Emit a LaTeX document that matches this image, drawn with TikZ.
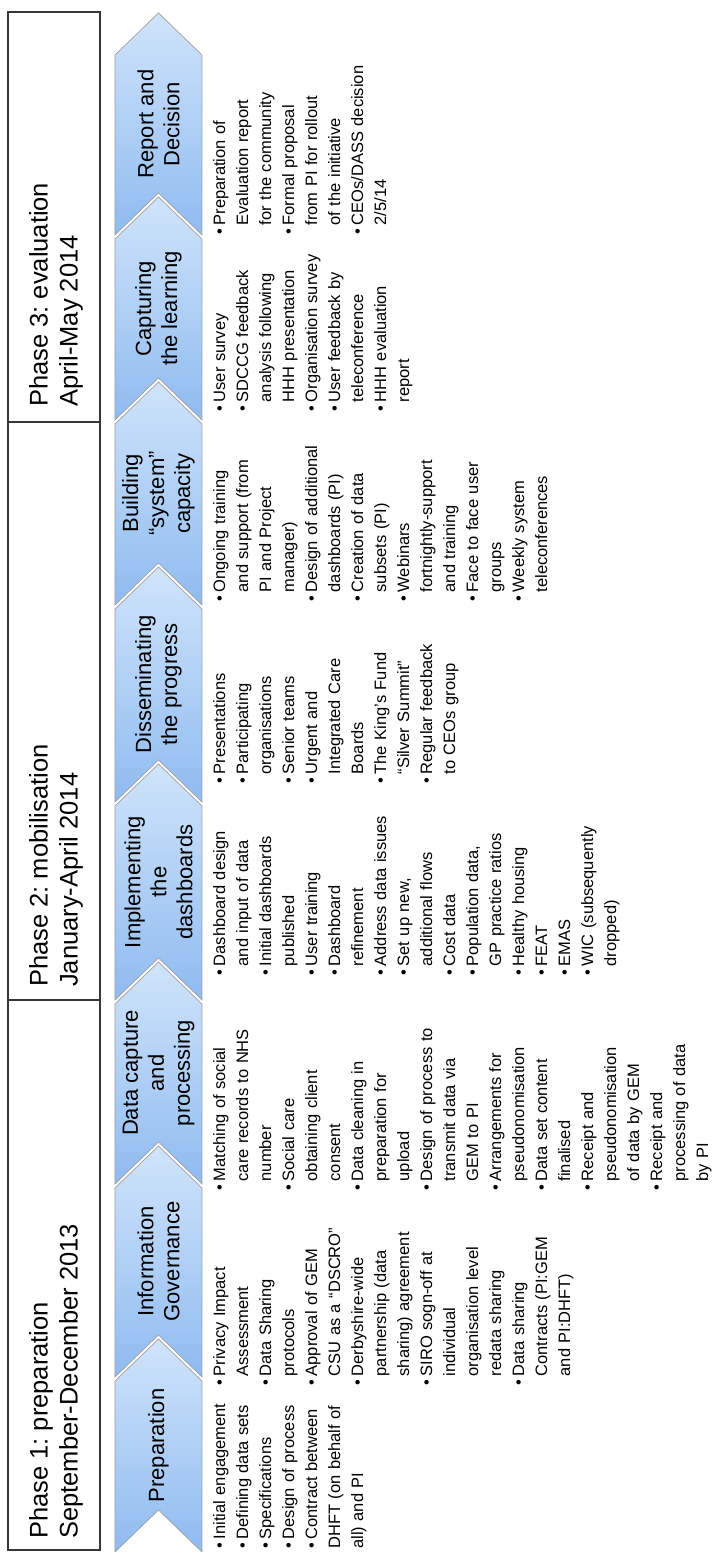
\documentclass[tikz,border=0pt]{standalone}
\usepackage{fontspec}
\setmainfont{Liberation Sans}
\frenchspacing
\definecolor{chevtop}{RGB}{208,228,251}
\definecolor{chevbot}{RGB}{143,187,240}
\definecolor{chevline}{RGB}{160,160,160}
\definecolor{boxline}{RGB}{55,55,55}
\newcommand\bu{\makebox[9.5pt][l]{\textbullet}}
\newcommand\ci{\hspace*{9.5pt}}
\tikzset{
  chev/.style={draw=chevline, line width=0.7pt, top color=chevtop, bottom color=chevbot},
  chevlabel/.style={font=\fontsize{22}{26}\selectfont, align=center, inner sep=0pt},
  phasebox/.style={draw=boxline, line width=1.2pt},
  phasetext/.style={font=\fontsize{25.5}{30}\selectfont, align=left, anchor=west, inner sep=0pt},
  bullets/.style={font=\fontsize{16.5}{23}\selectfont, align=left, text width=230pt, anchor=north west, inner sep=0pt},
}
\begin{document}
\begin{tikzpicture}[x=1pt,y=1pt]
\begin{scope}[rotate=90, transform shape]
\useasboundingbox (0,0) -- (1552,0) -- (1552,715) -- (0,715) -- cycle;
\fill[white] (0,0) -- (1552,0) -- (1552,715) -- (0,715) -- cycle;

% phase boxes
\draw[phasebox] (2,615) rectangle (552,707);
\draw[phasebox] (552,615) rectangle (1130,707);
\draw[phasebox] (1130,615) rectangle (1540,707);
\node[phasetext] (ph1) at (13,659) {Phase 1: preparation\\September-December 2013};
\node[phasetext] (ph2) at (565,659) {Phase 2: mobilisation\\January-April 2014};
\node[phasetext] (ph3) at (1145,659) {Phase 3: evaluation\\April-May 2014};

% chevrons
\foreach \b/\t/\lab [count=\i] in {
  0/213/{Preparation},
  175/406/{Information\\Governance},
  368/590/{Data capture\\and\\processing},
  552/788/{Implementing\\the\\dashboards},
  750/985/{Disseminating\\the progress},
  947/1170/{Building\\“system”\\capacity},
  1132/1355/{Capturing\\the learning},
  1317/1539/{Report and\\Decision}} {
  \path[chev] (\b,513) -- ({\t-42},513) -- (\t,556.5) -- ({\t-42},600) -- (\b,600) -- ({\b+42},556.5) -- cycle;
  \node[chevlabel] (lab\i) at ({(\b+\t)/2},556.5) {\lab};
}

% bullet columns
\node[bullets] (col1) at (3,506.1) {\strut\bu Initial engagement\\
\bu Defining data sets\\
\bu Specifications\\
\bu Design of process\\
\bu Contract between\\
DHFT (on behalf of\\
all) and PI};

\node[bullets] (col2) at (166,506.1) {\strut\bu Privacy Impact\\
\ci Assessment\\
\bu Data Sharing\\
\ci protocols\\
\bu Approval of GEM\\
\ci CSU as a “DSCRO”\\
\bu Derbyshire-wide\\
\ci partnership (data\\
\ci sharing) agreement\\
\bu SIRO sogn-off at\\
\ci individual\\
\ci organisation level\\
\ci redata sharing\\
\bu Data sharing\\
\ci Contracts (PI:GEM\\
\ci and PI:DHFT)};

\node[bullets] (col3) at (361,506.1) {\strut\bu Matching of social\\
\ci care records to NHS\\
\ci number\\
\bu Social care\\
\ci obtaining client\\
\ci consent\\
\bu Data cleaning in\\
\ci preparation for\\
\ci upload\\
\bu Design of process to\\
\ci transmit data via\\
\ci GEM to PI\\
\bu Arrangements for\\
\ci pseudonomisation\\
\bu Data set content\\
\ci finalised\\
\bu Receipt and\\
\ci pseudonomisation\\
\ci of data by GEM\\
\bu Receipt and\\
\ci processing of data\\
\ci by PI};

\node[bullets] (col4) at (576,506.1) {\strut\bu Dashboard design\\
\ci and input of data\\
\bu Initial dashboards\\
\ci published\\
\bu User training\\
\bu Dashboard\\
\ci refinement\\
\bu Address data issues\\
\bu Set up new,\\
\ci additional flows\\
\bu Cost data\\
\bu Population data,\\
\ci GP practice ratios\\
\bu Healthy housing\\
\bu FEAT\\
\bu EMAS\\
\bu WIC (subsequently\\
\ci dropped)};

\node[bullets] (col5) at (768,506.1) {\strut\bu Presentations\\
\bu Participating\\
\ci organisations\\
\bu Senior teams\\
\bu Urgent and\\
\ci Integrated Care\\
\ci Boards\\
\bu The King’s Fund\\
\ci “Silver Summit”\\
\bu Regular feedback\\
\ci to CEOs group};

\node[bullets] (col6) at (950,506.1) {\strut\bu Ongoing training\\
\ci and support (from\\
\ci PI and Project\\
\ci manager)\\
\bu Design of additional\\
\ci dashboards (PI)\\
\bu Creation of data\\
\ci subsets (PI)\\
\bu Webinars\\
\ci fortnightly-support\\
\ci and training\\
\bu Face to face user\\
\ci groups\\
\bu Weekly system\\
\ci teleconferences};

\node[bullets] (col7) at (1140,506.1) {\strut\bu User survey\\
\bu SDCCG feedback\\
\ci analysis following\\
\ci HHH presentation\\
\bu Organisation survey\\
\bu User feedback by\\
\ci teleconference\\
\bu HHH evaluation\\
\ci report};

\node[bullets] (col8) at (1317,506.1) {\strut\bu Preparation of\\
\ci Evaluation report\\
\ci for the community\\
\bu Formal proposal\\
\ci from PI for rollout\\
\ci of the initiative\\
\bu CEOs/DASS decision\\
\ci 2/5/14};
\end{scope}
\end{tikzpicture}
\end{document}
